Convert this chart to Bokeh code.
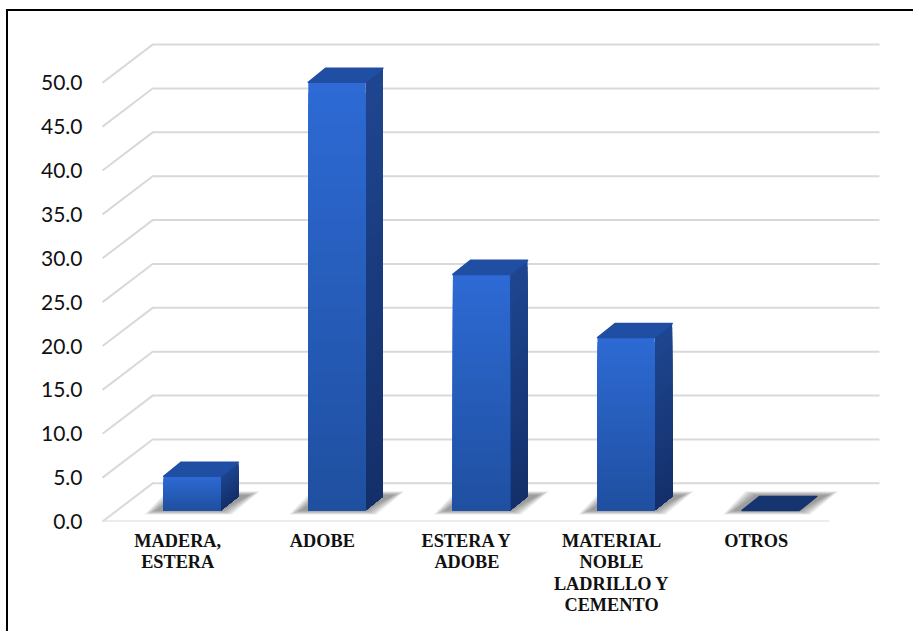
from bokeh.embed import file_html
from bokeh.resources import INLINE
from bokeh.plotting import figure
from bokeh.models import FixedTicker, Range1d, NumeralTickFormatter

# Survey results by wall material
categories = ["MADERA,\nESTERA", "ADOBE", "ESTERA Y\nADOBE", "MATERIAL\nNOBLE\nLADRILLO Y\nCEMENTO", "OTROS"]
values = [3.9, 48.8, 26.9, 19.7, 0.0]
y_ticks = [0, 5, 10, 15, 20, 25, 30, 35, 40, 45, 50]

# Pixel scale of the two axes
X_UNIT = 144.25
Y_UNIT = 8.74
# Oblique projection offsets, in data units
WALL_DX, WALL_DY = 50 / X_UNIT, 38 / Y_UNIT
BAR_X, BAR_Y = 14.5 / X_UNIT, 11 / Y_UNIT
DEPTH_DX, DEPTH_DY = 17.5 / X_UNIT, 14 / Y_UNIT
HALF_W = 28.5 / X_UNIT

# The canvas sits inside a top/left rule drawn with CSS
OFF_X, OFF_Y = 9, 12
FRAME_L, FRAME_R, FRAME_T, FRAME_B = 95, 890, 20, 520
ORIGIN_X = 178

p = figure(width=914 - OFF_X, height=632 - OFF_Y, output_backend="svg", toolbar_location=None,
           x_range=Range1d((FRAME_L - ORIGIN_X) / X_UNIT, (FRAME_R - ORIGIN_X) / X_UNIT),
           y_range=Range1d(0, (FRAME_B - FRAME_T) / Y_UNIT),
           min_border_left=FRAME_L - OFF_X, min_border_right=914 - FRAME_R,
           min_border_top=FRAME_T - OFF_Y, min_border_bottom=632 - FRAME_B)
p.styles = {"margin-left": "6px", "margin-top": "9px",
            "border-left": "2px solid black", "border-top": "2px solid black",
            "box-sizing": "content-box"}
p.outline_line_color = None
p.grid.visible = False
p.background_fill_color = "white"
p.border_fill_color = "white"

# Value axis
p.yaxis.ticker = FixedTicker(ticks=y_ticks)
p.yaxis.formatter = NumeralTickFormatter(format="0.0")
p.yaxis.axis_line_color = None
p.yaxis.major_tick_line_color = None
p.yaxis.minor_tick_line_color = None
p.yaxis.major_label_text_font = "Lato"
p.yaxis.major_label_text_font_size = "21px"
p.yaxis.major_label_text_color = "#111111"
p.yaxis.major_label_standoff = 6

# Category axis
p.xaxis.ticker = FixedTicker(ticks=list(range(len(categories))))
p.xaxis.major_label_overrides = {i: c for i, c in enumerate(categories)}
p.xaxis.axis_line_color = None
p.xaxis.major_tick_line_color = None
p.xaxis.minor_tick_line_color = None
p.xaxis.major_label_text_font = "Liberation Serif"
p.xaxis.major_label_text_font_style = "bold"
p.xaxis.major_label_text_font_size = "18.3px"
p.xaxis.major_label_text_line_height = 1.08
p.xaxis.major_label_text_color = "#111111"
p.xaxis.major_label_standoff = 3

# Wall gridlines: slanted run up from the floor edge, then along the back wall
x_left = (103 - ORIGIN_X) / X_UNIT
x_back_right = (878 - ORIGIN_X) / X_UNIT
x_front_right = (828 - ORIGIN_X) / X_UNIT
GRID = "#d9d9d9"
for t in y_ticks:
    p.line([x_left, x_left + WALL_DX, x_back_right],
           [t, t + WALL_DY, t + WALL_DY], line_color=GRID, line_width=2)
p.line([x_left, x_front_right], [0, 0], line_color=GRID, line_width=2)


def mix(a, b, f):
    ca = [int(a[i:i + 2], 16) for i in (1, 3, 5)]
    cb = [int(b[i:i + 2], 16) for i in (1, 3, 5)]
    return "#%02x%02x%02x" % tuple(round(u + (v - u) * f) for u, v in zip(ca, cb))


STRIPS = 40
for i, v in enumerate(values):
    left = i + BAR_X - HALF_W
    right = i + BAR_X + HALF_W
    base = BAR_Y
    top = base + v

    # Soft floor shadow built from nested translucent layers
    for grow in range(14, -1, -1):
        g = grow * 0.8 / X_UNIT
        gy = grow * 0.3 / Y_UNIT
        p.patch([left - 8 / X_UNIT - g, right + g, right + 28 / X_UNIT + g, left + 14 / X_UNIT - g],
                [base - gy, base - gy, base + 15 / Y_UNIT + gy, base + 15 / Y_UNIT + gy],
                fill_color="#555555", fill_alpha=0.055, line_color=None)

    if v > 0:
        # Side face, painted top-down so each layer overlaps the next
        for s in range(STRIPS, 0, -1):
            f = s / STRIPS
            p.patch([right, right + DEPTH_DX, right + DEPTH_DX, right],
                    [base, base + DEPTH_DY, base + v * f + DEPTH_DY, base + v * f],
                    fill_color=mix("#142f69", "#1e4690", f), line_color=None)
        # Front face, darkening toward the floor
        for s in range(STRIPS, 0, -1):
            f = s / STRIPS
            p.quad(left=left, right=right, bottom=base, top=base + v * f,
                   fill_color=mix("#1f4f9f", "#2d6ad4", f), line_color=None)
        top_color = "#1f4ea3"
    else:
        top_color = "#16346f"

    # Top face
    p.patch([left, right, right + DEPTH_DX, left + DEPTH_DX],
            [top, top, top + DEPTH_DY, top + DEPTH_DY],
            fill_color=top_color, line_color=top_color, line_width=1.5, line_join="round")

open("out.html", "w").write(file_html(p, INLINE))
